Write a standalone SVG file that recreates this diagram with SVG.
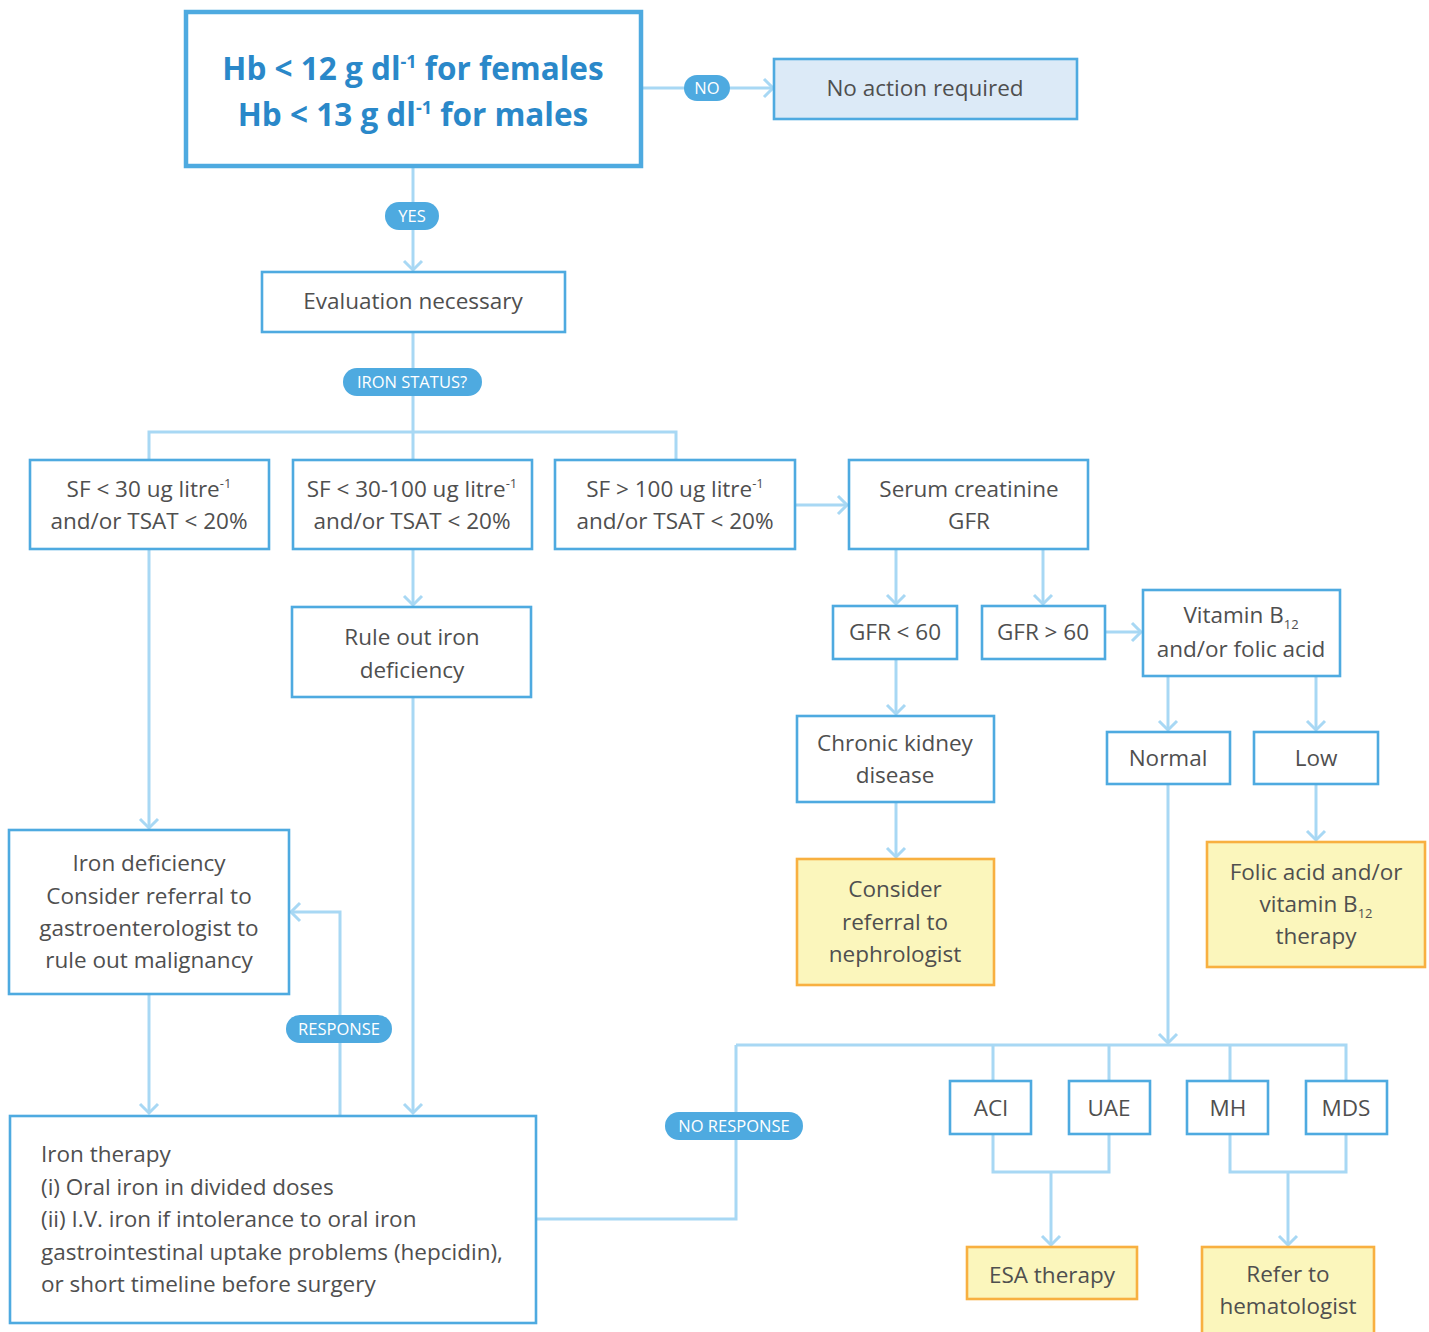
<svg xmlns="http://www.w3.org/2000/svg" width="1429" height="1332" viewBox="0 0 1429 1332">
<style>
.box{fill:#fff;stroke:#4eaae0;stroke-width:2.6}
.blue{fill:#dceaf7;stroke:#4eaae0;stroke-width:2.6}
.yel{fill:#fbf6bc;stroke:#f8b040;stroke-width:2.6}
.t{font-family:"Open Sans",Lato,sans-serif;font-size:22.5px;fill:#4f4f4f;text-anchor:middle}
.tl{font-family:"Open Sans",Lato,sans-serif;font-size:22.5px;fill:#4f4f4f}
.hb{font-family:"Open Sans",Lato,sans-serif;font-size:31.5px;font-weight:bold;fill:#2a88c9;text-anchor:middle}
.c{fill:none;stroke:#a8d8f4;stroke-width:3}
.pill{fill:#4eaae0}
.pt{font-family:"Open Sans",Lato,sans-serif;font-size:16.5px;fill:#fff;text-anchor:middle}
</style>
<defs>
<marker id="ar" markerUnits="userSpaceOnUse" markerWidth="24" markerHeight="24" refX="11" refY="11" orient="auto" viewBox="0 0 24 24">
<path d="M2,2 L11,11 L2,20" fill="none" stroke="#a8d8f4" stroke-width="3"/>
</marker>
</defs>
<g id="connectors">
<path class="c" d="M641,88 H773" marker-end="url(#ar)"/>
<path class="c" d="M413,166 V270" marker-end="url(#ar)"/>
<path class="c" d="M413,332 V432 M149,460 V432 H676 V460 M413,432 V460"/>
<path class="c" d="M795,505 H847" marker-end="url(#ar)"/>
<path class="c" d="M896,549 V604" marker-end="url(#ar)"/>
<path class="c" d="M1043,549 V604" marker-end="url(#ar)"/>
<path class="c" d="M1105,632 H1141" marker-end="url(#ar)"/>
<path class="c" d="M1168,676 V730" marker-end="url(#ar)"/>
<path class="c" d="M1316,676 V730" marker-end="url(#ar)"/>
<path class="c" d="M1316,784 V840" marker-end="url(#ar)"/>
<path class="c" d="M896,659 V714" marker-end="url(#ar)"/>
<path class="c" d="M896,802 V857" marker-end="url(#ar)"/>
<path class="c" d="M1168,784 V1043" marker-end="url(#ar)"/>
<path class="c" d="M736,1045 H1346 V1081 M993,1045 V1081 M1109,1045 V1081 M1230,1045 V1081"/>
<path class="c" d="M993,1134 V1172 H1109 V1134 M1230,1134 V1172 H1346 V1134"/>
<path class="c" d="M1051,1172 V1245" marker-end="url(#ar)"/>
<path class="c" d="M1288,1172 V1245" marker-end="url(#ar)"/>
<path class="c" d="M536,1219 H736 V1045"/>
<path class="c" d="M149,549 V828" marker-end="url(#ar)"/>
<path class="c" d="M149,994 V1113" marker-end="url(#ar)"/>
<path class="c" d="M413,549 V605" marker-end="url(#ar)"/>
<path class="c" d="M413,697 V1113" marker-end="url(#ar)"/>
<path class="c" d="M340,1116 V912 H291" marker-end="url(#ar)"/>
</g>
<g id="pills">
<g id="pill-no"><rect class="pill" x="684" y="75" width="46" height="26" rx="13"/><text class="pt" x="707" y="94">NO</text></g>
<g id="pill-yes"><rect class="pill" x="385" y="202" width="54" height="28" rx="14"/><text class="pt" x="412" y="222">YES</text></g>
<g id="pill-iron"><rect class="pill" x="343" y="368" width="139" height="28" rx="14"/><text class="pt" x="412" y="388">IRON STATUS?</text></g>
<g id="pill-response"><rect class="pill" x="286" y="1015" width="106" height="28" rx="14"/><text class="pt" x="339" y="1035">RESPONSE</text></g>
<g id="pill-noresponse"><rect class="pill" x="665" y="1112" width="138" height="28" rx="14"/><text class="pt" x="734" y="1132">NO RESPONSE</text></g>
</g>
<g id="n-hb"><rect x="186" y="12" width="455" height="154" fill="#fff" stroke="#4eaae0" stroke-width="4.5"/>
<text class="hb" x="413" y="80">Hb &lt; 12 g dl<tspan font-size="18" dy="-12">-1</tspan><tspan dy="12"> for females</tspan></text>
<text class="hb" x="413" y="126">Hb &lt; 13 g dl<tspan font-size="18" dy="-12">-1</tspan><tspan dy="12"> for males</tspan></text></g>
<g id="n-noaction"><rect class="blue" x="774" y="59" width="303" height="60"/><text class="t" x="925" y="96">No action required</text></g>
<g id="n-eval"><rect class="box" x="262" y="272" width="303" height="60"/><text class="t" x="413" y="309">Evaluation necessary</text></g>
<g id="n-sf30"><rect class="box" x="30" y="460" width="239" height="89"/><text class="t" x="149" y="497">SF &lt; 30 ug litre<tspan font-size="13" dy="-9">-1</tspan></text><text class="t" x="149" y="529">and/or TSAT &lt; 20%</text></g>
<g id="n-sf30100"><rect class="box" x="293" y="460" width="239" height="89"/><text class="t" x="412" y="497">SF &lt; 30-100 ug litre<tspan font-size="13" dy="-9">-1</tspan></text><text class="t" x="412" y="529">and/or TSAT &lt; 20%</text></g>
<g id="n-sf100"><rect class="box" x="555" y="460" width="240" height="89"/><text class="t" x="675" y="497">SF &gt; 100 ug litre<tspan font-size="13" dy="-9">-1</tspan></text><text class="t" x="675" y="529">and/or TSAT &lt; 20%</text></g>
<g id="n-serum"><rect class="box" x="849" y="460" width="239" height="89"/><text class="t" x="969" y="497">Serum creatinine</text><text class="t" x="969" y="529">GFR</text></g>
<g id="n-gfrlt"><rect class="box" x="833" y="606" width="124" height="53"/><text class="t" x="895" y="640">GFR &lt; 60</text></g>
<g id="n-gfrgt"><rect class="box" x="982" y="606" width="123" height="53"/><text class="t" x="1043" y="640">GFR &gt; 60</text></g>
<g id="n-vitb"><rect class="box" x="1143" y="590" width="197" height="86"/><text class="t" x="1241" y="623">Vitamin B<tspan font-size="13" dy="6">12</tspan></text><text class="t" x="1241" y="657">and/or folic acid</text></g>
<g id="n-normal"><rect class="box" x="1107" y="732" width="123" height="52"/><text class="t" x="1168" y="766">Normal</text></g>
<g id="n-low"><rect class="box" x="1254" y="732" width="124" height="52"/><text class="t" x="1316" y="766">Low</text></g>
<g id="n-folic"><rect class="yel" x="1207" y="842" width="218" height="125"/><text class="t" x="1316" y="880">Folic acid and/or</text><text class="t" x="1316" y="912">vitamin B<tspan font-size="13" dy="6">12</tspan></text><text class="t" x="1316" y="944">therapy</text></g>
<g id="n-ckd"><rect class="box" x="797" y="716" width="197" height="86"/><text class="t" x="895" y="751">Chronic kidney</text><text class="t" x="895" y="783">disease</text></g>
<g id="n-neph"><rect class="yel" x="797" y="859" width="197" height="126"/><text class="t" x="895" y="897">Consider</text><text class="t" x="895" y="930">referral to</text><text class="t" x="895" y="962">nephrologist</text></g>
<g id="n-aci"><rect class="box" x="950" y="1081" width="81" height="53"/><text class="t" x="991" y="1116">ACI</text></g>
<g id="n-uae"><rect class="box" x="1069" y="1081" width="81" height="53"/><text class="t" x="1109" y="1116">UAE</text></g>
<g id="n-mh"><rect class="box" x="1187" y="1081" width="81" height="53"/><text class="t" x="1228" y="1116">MH</text></g>
<g id="n-mds"><rect class="box" x="1306" y="1081" width="81" height="53"/><text class="t" x="1346" y="1116">MDS</text></g>
<g id="n-esa"><rect class="yel" x="967" y="1247" width="170" height="52"/><text class="t" x="1052" y="1283">ESA therapy</text></g>
<g id="n-refer"><rect class="yel" x="1202" y="1247" width="172" height="100"/><text class="t" x="1288" y="1282">Refer to</text><text class="t" x="1288" y="1314">hematologist</text></g>
<g id="n-ruleout"><rect class="box" x="292" y="607" width="239" height="90"/><text class="t" x="412" y="645">Rule out iron</text><text class="t" x="412" y="678">deficiency</text></g>
<g id="n-irondef"><rect class="box" x="9" y="830" width="280" height="164"/><text class="t" x="149" y="871">Iron deficiency</text><text class="t" x="149" y="904">Consider referral to</text><text class="t" x="149" y="936">gastroenterologist to</text><text class="t" x="149" y="968">rule out malignancy</text></g>
<g id="n-therapy"><rect class="box" x="10" y="1116" width="526" height="207"/>
<text class="tl" x="41" y="1162">Iron therapy</text>
<text class="tl" x="41" y="1195">(i) Oral iron in divided doses</text>
<text class="tl" x="41" y="1227">(ii) I.V. iron if intolerance to oral iron</text>
<text class="tl" x="41" y="1260">gastrointestinal uptake problems (hepcidin),</text>
<text class="tl" x="41" y="1292">or short timeline before surgery</text></g>
</svg>
